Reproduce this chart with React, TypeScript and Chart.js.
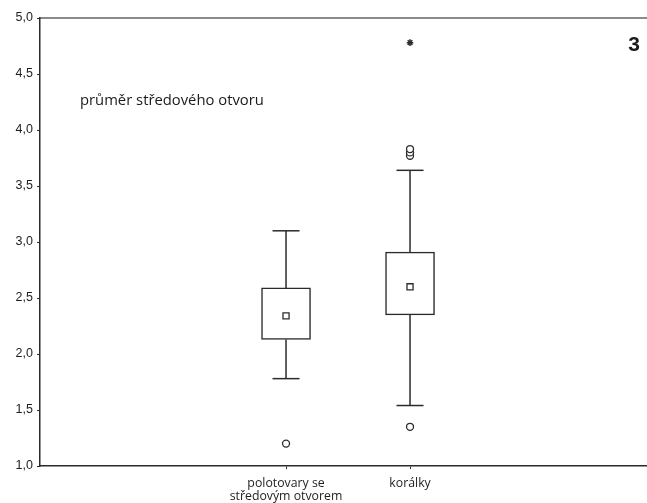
import React, { useEffect, useRef } from 'react';
import { Chart, registerables } from 'chart.js';

Chart.register(...registerables);

// ---- data ----
const categories: (string | string[])[] = [['polotovary se', 'středovým otvorem'], 'korálky'];
const catPos = [1, 2];
const boxLow = [2.13, 2.35];
const boxHigh = [2.59, 2.91];
const means = [2.34, 2.6];
const whiskerLow = [1.78, 1.54];
const whiskerHigh = [3.1, 3.64];
const outliers: number[][] = [[1.2], [1.35, 3.77, 3.8, 3.83]];
const extremes: number[][] = [[], [4.78]];
const yTicks = [1.0, 1.5, 2.0, 2.5, 3.0, 3.5, 4.0, 4.5, 5.0];
const variableLabel = 'průměr středového otvoru';
const panelLabel = '3';

const ink = '#2b2b2b';

export default function App() {
  const ref = useRef<HTMLCanvasElement | null>(null);

  useEffect(() => {
    if (!ref.current) return;

    const whiskerSets = catPos.flatMap((x, i) => [
      {
        type: 'line' as const,
        data: [{ x, y: boxHigh[i] }, { x, y: whiskerHigh[i] }],
        borderColor: ink,
        borderWidth: 1.5,
        pointRadius: 0,
        order: 5,
      },
      {
        type: 'line' as const,
        data: [{ x, y: boxLow[i] }, { x, y: whiskerLow[i] }],
        borderColor: ink,
        borderWidth: 1.5,
        pointRadius: 0,
        order: 5,
      },
    ]);

    const textPlugin = {
      id: 'texts',
      afterDraw(chart: any) {
        const { ctx, chartArea } = chart;
        ctx.save();
        ctx.fillStyle = '#1a1a1a';
        ctx.textBaseline = 'middle';
        ctx.textAlign = 'left';
        ctx.font = '14.8px "Open Sans", "Noto Sans", sans-serif';
        ctx.fillText(variableLabel, chartArea.left + 40, chartArea.top + 83);
        ctx.textAlign = 'right';
        ctx.font = 'bold 21px "Liberation Sans Narrow", "Liberation Sans", sans-serif';
        ctx.fillText(panelLabel, chartArea.right - 7, chartArea.top + 27);
        ctx.restore();
      },
    };

    const chart = new Chart(ref.current, {
      type: 'bar',
      data: {
        datasets: [
          {
            type: 'bar',
            data: catPos.map((x, i) => ({ x, y: [boxLow[i], boxHigh[i]] })) as any,
            backgroundColor: '#ffffff',
            borderColor: ink,
            borderWidth: 1.5,
            borderSkipped: false,
            barThickness: 49,
            order: 10,
          } as any,
          ...whiskerSets,
          {
            type: 'scatter',
            data: catPos.flatMap((x, i) => [
              { x, y: whiskerLow[i] },
              { x, y: whiskerHigh[i] },
            ]),
            pointStyle: 'line',
            pointRadius: 13.5,
            borderColor: ink,
            borderWidth: 1.5,
            order: 4,
          } as any,
          {
            type: 'scatter',
            data: catPos.map((x, i) => ({ x, y: means[i] })),
            pointStyle: 'rect',
            pointRadius: 4.3,
            backgroundColor: '#ffffff',
            borderColor: ink,
            borderWidth: 1.3,
            order: 3,
          } as any,
          {
            type: 'scatter',
            data: catPos.flatMap((x, i) => outliers[i].map((y) => ({ x, y }))),
            pointStyle: 'circle',
            pointRadius: 3.5,
            backgroundColor: '#ffffff',
            borderColor: ink,
            borderWidth: 1.3,
            order: 2,
          } as any,
          {
            type: 'scatter',
            data: catPos.flatMap((x, i) => extremes[i].map((y) => ({ x, y }))),
            pointStyle: 'star',
            pointRadius: 3.3,
            borderColor: ink,
            borderWidth: 1.5,
            order: 1,
          } as any,
        ],
      },
      options: {
        animation: false,
        responsive: true,
        maintainAspectRatio: false,
        events: [],
        layout: { autoPadding: false, padding: { top: 18, left: 0, right: 0, bottom: 0 } },
        plugins: {
          legend: { display: false },
          tooltip: { enabled: false },
        },
        scales: {
          x: {
            type: 'linear',
            offset: false,
            min: -0.984,
            max: 3.911,
            afterBuildTicks: (s: any) => {
              s.ticks = catPos.map((v) => ({ value: v }));
            },
            afterFit: (s: any) => {
              s.height = 37;
              s.paddingLeft = 0;
              s.paddingRight = 0;
            },
            ticks: {
              autoSkip: false,
              maxRotation: 0,
              padding: 8,
              color: '#1e1e1e',
              font: { family: '"Open Sans", "Noto Sans", sans-serif', size: 12.3, lineHeight: 1.08 },
              callback: (v: any) => {
                const idx = catPos.indexOf(Number(v));
                return idx >= 0 ? (categories[idx] as any) : '';
              },
            },
            grid: { display: true, offset: false, drawOnChartArea: false, tickLength: 3, color: ink },
            border: { color: ink, width: 1.5 },
          },
          x2: {
            type: 'linear',
            position: 'top',
            offset: false,
            min: 0,
            max: 1,
            ticks: { display: false },
            grid: { display: false },
            border: { color: '#8a8a8a', width: 2 },
            afterFit: (s: any) => {
              s.height = 0;
              s.paddingLeft = 0;
              s.paddingRight = 0;
            },
          },
          y: {
            type: 'linear',
            min: 1,
            max: 5,
            afterBuildTicks: (s: any) => {
              s.ticks = yTicks.map((v) => ({ value: v }));
            },
            afterFit: (s: any) => {
              s.width = 40;
            },
            ticks: {
              padding: 4,
              color: '#1e1e1e',
              font: { family: '"Liberation Sans", Arial, sans-serif', size: 12.5 },
              callback: (v: any) => Number(v).toFixed(1).replace('.', ','),
            },
            grid: { display: true, drawOnChartArea: false, tickLength: 3, color: ink },
            border: { color: ink, width: 1.5 },
          },
        },
      } as any,
      plugins: [textPlugin],
    });

    return () => chart.destroy();
  }, []);

  return (
    <div style={{ position: 'fixed', left: 0, top: 0, width: 647, height: 503, background: '#fff' }}>
      <canvas ref={ref} />
    </div>
  );
}
